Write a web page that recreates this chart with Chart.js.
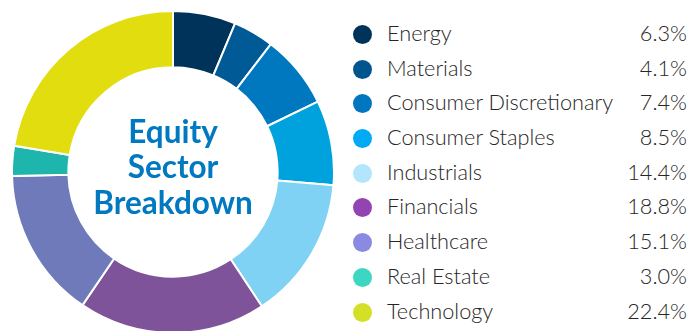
<!DOCTYPE html>
<html>
<head>
<meta charset="utf-8">
<script src="https://cdn.jsdelivr.net/npm/chart.js@4"></script>
<style>
  html, body { margin: 0; padding: 0; background: #fff; }
  body { width: 689px; height: 331px; position: relative; overflow: hidden; font-family: Lato, sans-serif; }
  #wrap { position: absolute; left: 11px; top: 10px; width: 324px; height: 324px; }
  #legend { position: absolute; left: 353px; top: 18px; width: 334px; }
  .row { position: relative; height: 34.7px; color: #262626; font-size: 21.7px; font-weight: 300; }
  .dot { position: absolute; left: 0; top: 7px; width: 19px; height: 19px; border-radius: 50%; }
  .name { position: absolute; left: 34px; top: 2px; }
  .pct { position: absolute; right: 0; top: 2px; }
</style>
</head>
<body>
<div id="wrap"><canvas id="donut" width="324" height="324"></canvas></div>
<div id="legend"></div>
<script>
const sectors = ['Energy', 'Materials', 'Consumer Discretionary', 'Consumer Staples', 'Industrials',
                 'Financials', 'Healthcare', 'Real Estate', 'Technology'];
const weights = [6.3, 4.1, 7.4, 8.5, 14.4, 18.8, 15.1, 3.0, 22.4];
const sliceColors = ['#003359', '#005a96', '#0078c0', '#00a2dd', '#80d2f5',
                     '#7f5399', '#6e7ab9', '#1eb5ad', '#e2dd0f'];
const dotColors = ['#003359', '#00558f', '#0076c0', '#00aaf5', '#b3e5fc',
                   '#9344b3', '#8a8ae0', '#3dd6c0', '#d4e025'];
const centerLines = ['Equity', 'Sector', 'Breakdown'];

// legend rows on the right
let html = '';
for (let i = 0; i < sectors.length; i++) {
    html += '<div class="row">';
    html += '<span class="dot" style="background:' + dotColors[i] + '"></span>';
    html += '<span class="name">' + sectors[i] + '</span>';
    html += '<span class="pct">' + weights[i].toFixed(1) + '%</span>';
    html += '</div>';
}
document.getElementById('legend').innerHTML = html;

// title in the hole
const centerText = {
    id: 'centerText',
    afterDraw(chart) {
        const ctx = chart.ctx;
        const meta = chart.getDatasetMeta(0).data[0];
        const x = meta.x, y = meta.y;
        ctx.save();
        ctx.fillStyle = '#0079c1';
        ctx.font = 'bold 31.5px Lato, sans-serif';
        ctx.textAlign = 'center';
        ctx.textBaseline = 'alphabetic';
        ctx.fillText(centerLines[0], x, y - 29);
        ctx.fillText(centerLines[1], x, y + 6);
        ctx.fillText(centerLines[2], x, y + 42);
        ctx.restore();
    }
};

new Chart(document.getElementById('donut'), {
    type: 'doughnut',
    data: {
        labels: sectors,
        datasets: [{
            data: weights,
            backgroundColor: sliceColors,
            borderColor: '#ffffff',
            borderWidth: 2
        }]
    },
    options: {
        responsive: false,
        animation: false,
        cutout: '65%',
        layout: { padding: 0 },
        plugins: {
            legend: { display: false },
            tooltip: { enabled: false }
        }
    },
    plugins: [centerText]
});
</script>
</body>
</html>
